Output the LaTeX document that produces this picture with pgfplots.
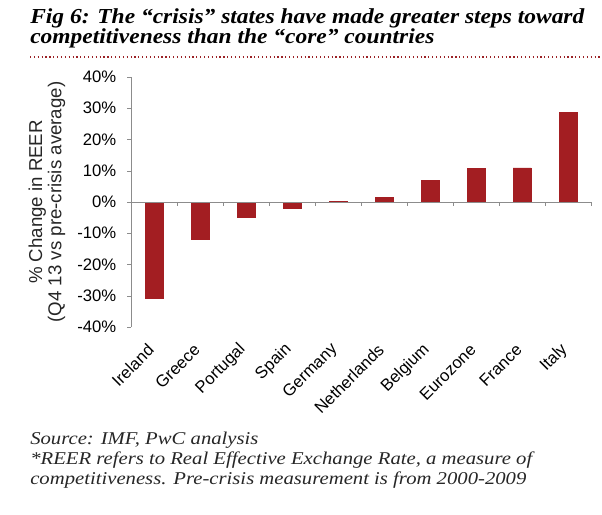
\documentclass[border=0pt]{standalone}
\usepackage{fontspec}
\setmainfont{Liberation Serif}
\newfontfamily\axisfont{Liberation Sans}
\newfontfamily\titlefont[FakeStretch=1.10]{Liberation Serif}
\newfontfamily\notefont[FakeStretch=1.15]{Liberation Serif}
\usepackage{pgfplots}
\pgfplotsset{compat=1.18}
\newlength\px
\setlength\px{0.75pt}
\definecolor{barred}{HTML}{A31E22}
\definecolor{axgray}{HTML}{8C8C8C}
\definecolor{rulered}{HTML}{9B2226}

\begin{document}
\begin{tikzpicture}[x=1\px,y=1\px]
\useasboundingbox (0,0) rectangle (602,-514);
% title
\node[anchor=base west,inner sep=0,font=\titlefont\fontsize{16pt}{18pt}\selectfont\bfseries\itshape] at (30,-23) {Fig 6: The “crisis” states have made greater steps toward};
\node[anchor=base west,inner sep=0,font=\titlefont\fontsize{16pt}{18pt}\selectfont\bfseries\itshape] at (30,-43) {competitiveness than the “core” countries};
\draw[rulered,line width=1.2\px,dotted] (30,-57) -- (602,-57);

\begin{axis}[
  at={(131\px,-327\px)}, anchor=south west,
  scale only axis, width=460\px, height=250\px,
  xmin=-0.5, xmax=9.5, ymin=-40, ymax=40,
  axis x line=none, axis y line*=left,
  y axis line style={axgray,-},
  ytick={-40,-30,...,40},
  yticklabel={\pgfmathprintnumber{\tick}\%},
  /pgf/number format/assume math mode=true,
  major tick length=4\px,
  tick style={axgray},
  ytick style={axgray},
  tick align=outside,
  yticklabel style={font=\axisfont\fontsize{12.5pt}{14pt}\selectfont, xshift=-6\px},
  ylabel={\% Change in REER\\(Q4 13 vs pre-crisis average)},
  every axis y label/.style={at={(rel axis cs:0,0.5)}, xshift=-84\px, rotate=90, anchor=center,
    align=center, font=\axisfont\fontsize{14pt}{14.5pt}\selectfont, text=black!85},
  ybar, bar width=18\px, bar shift=0pt,
  clip=false,
]
\addplot[fill=barred, draw=barred] coordinates {
  (0,-30.7) (1,-11.8) (2,-5.0) (3,-2.0) (4,0.3) (5,1.4) (6,6.8) (7,10.8) (8,10.9) (9,28.7)};
\end{axis}

% zero line with category separators
\draw[axgray] (131,-202) -- (591,-202);
\foreach \k in {1,...,10} \draw[axgray] ({131+46*\k},-202) -- ++(0,-4);

% category labels
\foreach \name [count=\i from 0] in {Ireland,Greece,Portugal,Spain,Germany,Netherlands,Belgium,Eurozone,France,Italy}
  \node[anchor=east,rotate=45,inner sep=0,font=\axisfont\fontsize{12.5pt}{14pt}\selectfont]
    at ({131+20+46*\i},-347) {\name};

% footer
\node[anchor=base west,inner sep=0,font=\notefont\fontsize{13.5pt}{15pt}\selectfont\itshape,text=black!85] at (30,-444) {Source: IMF, PwC analysis};
\node[anchor=base west,inner sep=0,font=\notefont\fontsize{13.5pt}{15pt}\selectfont\itshape,text=black!85] at (30,-464) {*REER refers to Real Effective Exchange Rate, a measure of};
\node[anchor=base west,inner sep=0,font=\notefont\fontsize{13.5pt}{15pt}\selectfont\itshape,text=black!85] at (30,-484) {competitiveness. Pre-crisis measurement is from 2000-2009};
\end{tikzpicture}
\end{document}
